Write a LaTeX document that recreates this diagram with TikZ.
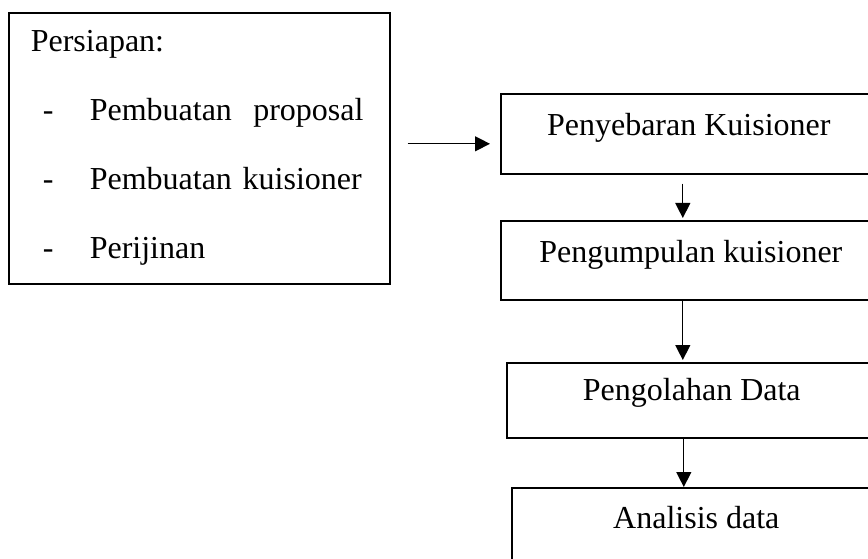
\documentclass[tikz,border=0pt]{standalone}
\usepackage{fontspec}
\setmainfont{Liberation Serif}
\usetikzlibrary{arrows.meta}

\newcommand{\prepitem}[1]{\makebox[59pt][l]{\hspace{12pt}-}#1}

\begin{document}
\begin{tikzpicture}[
    x=1pt, y=-1pt,
    every text node part/.style={align=center},
    stage/.style={
      % The shape:
      rectangle,
      anchor=north west,
      % The size:
      minimum width=376pt,
      inner xsep=0pt,
      inner ysep=0pt,
      % The border:
      draw=black,
      line width=1.6pt,
      % Font
      font=\fontsize{32}{38}\selectfont,
      text height=42pt,
      text depth=38pt,
    },
    prepbox/.style={
      rectangle,
      anchor=north west,
      minimum width=381pt,
      minimum height=271pt,
      text width=337pt,
      inner xsep=22pt,
      draw=black,
      line width=1.6pt,
      every text node part/.style={align=left},
      font=\fontsize{32}{69}\selectfont,
    },
    flow/.style={-{Triangle[length=15pt,width=15pt]}, line width=1.3pt}]

    \useasboundingbox (0,0) rectangle (868,559);
    \clip (0,0) rectangle (868,559);

    \node[prepbox] (prep) at (8,12) {Persiapan:\\
      \prepitem{Pembuatan\ \ proposal}\\
      \prepitem{Pembuatan kuisioner}\\
      \prepitem{Perijinan}};

    \node[stage] (sebar) at (500,93) {Penyebaran Kuisioner};
    \node[stage, minimum width=380pt, text depth=37pt] (kumpul) at (500,220) {Pengumpulan kuisioner};
    \node[stage, minimum width=370pt, text height=38pt, text depth=37pt] (olah) at (506,362) {Pengolahan Data};
    \node[stage, minimum width=369pt, text height=41pt] (analisis) at (511,487) {Analisis data};

    \coordinate (into) at ([yshift=-10pt]sebar.west);
    \draw[flow, shorten <=17pt, shorten >=10pt] (prep.east |- into) -- (into);
    \draw[flow, shorten <=9pt, shorten >=2pt] ([xshift=-6pt]sebar.south)
          -- ([xshift=-6pt]sebar.south |- kumpul.north);
    \draw[flow, shorten >=2pt] ([xshift=-8pt]kumpul.south)
          -- ([xshift=-8pt]kumpul.south |- olah.north);
    \draw[flow] ([xshift=-8pt]olah.south)
          -- ([xshift=-8pt]olah.south |- analisis.north);
  \end{tikzpicture}
\end{document}
